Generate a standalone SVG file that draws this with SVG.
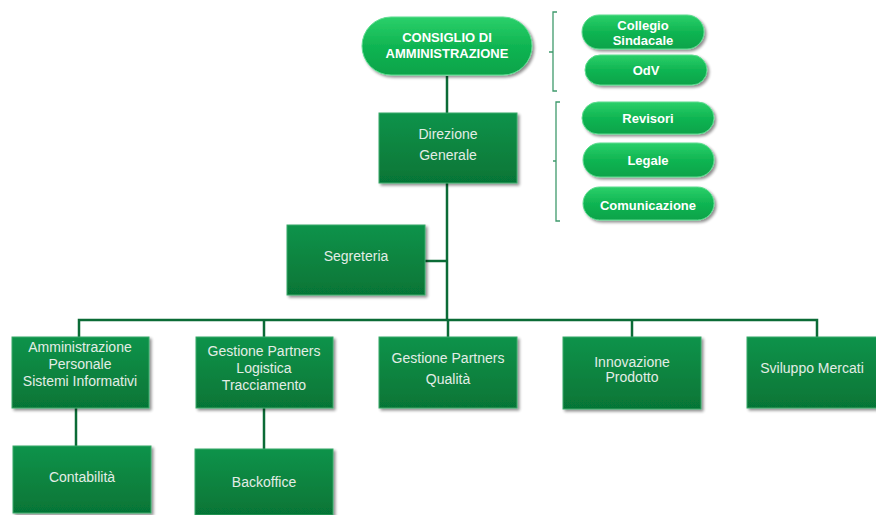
<svg xmlns="http://www.w3.org/2000/svg" width="876" height="515" viewBox="0 0 876 515">
<defs>
<linearGradient id="boxg" x1="0" y1="0" x2="0" y2="1">
<stop offset="0" stop-color="#0e934a"/>
<stop offset="1" stop-color="#067536"/>
</linearGradient>
<linearGradient id="pillg" x1="0" y1="0" x2="0" y2="1">
<stop offset="0" stop-color="#2bd06a"/>
<stop offset="0.5" stop-color="#10b552"/>
<stop offset="1" stop-color="#0ba34a"/>
</linearGradient>
<filter id="sh" x="-10%" y="-10%" width="125%" height="130%">
<feGaussianBlur in="SourceAlpha" stdDeviation="1.5"/>
<feOffset dx="1.5" dy="2" result="o"/>
<feComponentTransfer><feFuncA type="linear" slope="0.45"/></feComponentTransfer>
<feMerge><feMergeNode/><feMergeNode in="SourceGraphic"/></feMerge>
</filter>
</defs>
<style>
.box{fill:url(#boxg);stroke:#3aa96a;stroke-width:1;filter:url(#sh)}
.pill{fill:url(#pillg);stroke:#5fdc90;stroke-width:1;filter:url(#sh)}
.bt{font-family:"Liberation Sans",Arial,sans-serif;font-size:14px;fill:#e3ede6;text-anchor:middle}
.pt{font-family:"Liberation Sans",Arial,sans-serif;font-size:13px;font-weight:bold;fill:#ffffff;text-anchor:middle}
.con{stroke:#0b6b36;stroke-width:2.5;fill:none}
.br{stroke:#3f9a6c;stroke-width:1.3;fill:none}
</style>
<rect width="876" height="515" fill="#ffffff"/>
<g id="connectors">
<line class="con" x1="447" y1="76" x2="447" y2="113"/>
<line class="con" x1="447" y1="183" x2="447" y2="320"/>
<line class="con" x1="425" y1="261" x2="447" y2="261"/>
<polyline class="con" points="79,337 79,320 817,320 817,337"/>
<line class="con" x1="264" y1="320" x2="264" y2="337"/>
<line class="con" x1="448" y1="320" x2="448" y2="337"/>
<line class="con" x1="632" y1="320" x2="632" y2="337"/>
<line class="con" x1="76" y1="408" x2="76" y2="446"/>
<line class="con" x1="264" y1="408" x2="264" y2="449"/>
<path class="br" d="M557,12 H553 V91 H557 M553,52 H549"/>
<path class="br" d="M560,102 H556 V221 H560 M556,161 H553"/>
</g>
<g id="consiglio">
<rect class="pill" x="362" y="17" width="170" height="58" rx="29"/>
<text class="pt" x="447" y="42">CONSIGLIO  DI</text>
<text class="pt" x="447" y="58">AMMINISTRAZIONE</text>
</g>
<g id="collegio">
<rect class="pill" x="582" y="15" width="122" height="34" rx="17"/>
<text class="pt" x="643" y="30">Collegio</text>
<text class="pt" x="643" y="45">Sindacale</text>
</g>
<g id="odv">
<rect class="pill" x="585" y="55" width="122" height="30" rx="15"/>
<text class="pt" x="646" y="75">OdV</text>
</g>
<g id="revisori">
<rect class="pill" x="582" y="102" width="132" height="32" rx="16"/>
<text class="pt" x="648" y="123">Revisori</text>
</g>
<g id="legale">
<rect class="pill" x="583" y="143" width="131" height="34" rx="17"/>
<text class="pt" x="648" y="165">Legale</text>
</g>
<g id="comunicazione">
<rect class="pill" x="583" y="187" width="131" height="33" rx="16.5"/>
<text class="pt" x="648" y="210">Comunicazione</text>
</g>
<g id="direzione">
<rect class="box" x="379" y="113" width="138" height="70"/>
<text class="bt" x="448" y="139">Direzione</text>
<text class="bt" x="448" y="160">Generale</text>
</g>
<g id="segreteria">
<rect class="box" x="287" y="225" width="138" height="70"/>
<text class="bt" x="356" y="261">Segreteria</text>
</g>
<g id="amministrazione">
<rect class="box" x="12" y="337" width="137" height="71"/>
<text class="bt" x="80" y="352">Amministrazione</text>
<text class="bt" x="80" y="369">Personale</text>
<text class="bt" x="80" y="386">Sistemi  Informativi</text>
</g>
<g id="gestione-logistica">
<rect class="box" x="196" y="337" width="137" height="71"/>
<text class="bt" x="264" y="356">Gestione Partners</text>
<text class="bt" x="264" y="373">Logistica</text>
<text class="bt" x="264" y="390">Tracciamento</text>
</g>
<g id="gestione-qualita">
<rect class="box" x="379" y="337" width="138" height="71"/>
<text class="bt" x="448" y="363">Gestione Partners</text>
<text class="bt" x="448" y="384">Qualità</text>
</g>
<g id="innovazione">
<rect class="box" x="563" y="337" width="138" height="72"/>
<text class="bt" x="632" y="367">Innovazione</text>
<text class="bt" x="632" y="382">Prodotto</text>
</g>
<g id="sviluppo">
<rect class="box" x="747" y="337" width="138" height="71"/>
<text class="bt" x="812" y="373">Sviluppo  Mercati</text>
</g>
<g id="contabilita">
<rect class="box" x="13" y="446" width="138" height="67"/>
<text class="bt" x="82" y="482">Contabilità</text>
</g>
<g id="backoffice">
<rect class="box" x="195" y="449" width="138" height="66"/>
<text class="bt" x="264" y="487">Backoffice</text>
</g>
</svg>
